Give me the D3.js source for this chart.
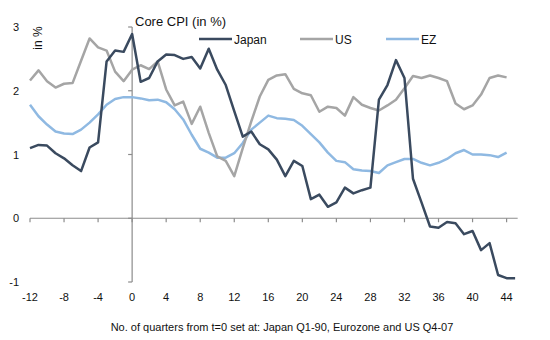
<html>
<head>
<meta charset="UTF-8">
<title>Core CPI</title>
<script src="https://d3js.org/d3.v7.min.js"></script>
<style>
  body{ margin:0; background:#fff; }
  svg{ display:block; font-family:"Liberation Sans", Arial, sans-serif; }
</style>
</head>
<body>
<script type="text/javascript">
var width = 550;
var height = 340;

// quarters from t=0
var quarters = d3.range(-12, 46);
var xTicks = d3.range(-12, 45, 4);
var yTicks = [-1, 0, 1, 2, 3];

var japan = [1.1, 1.15, 1.14, 1.02, 0.94, 0.83, 0.74, 1.11, 1.19, 2.46, 2.63, 2.61,
  2.89, 2.14, 2.2, 2.46, 2.57, 2.56, 2.5, 2.53, 2.35, 2.66, 2.33, 2.09,
  1.68, 1.28, 1.36, 1.16, 1.08, 0.92, 0.66, 0.9, 0.82, 0.3, 0.37, 0.18,
  0.25, 0.48, 0.39, 0.44, 0.48, 1.86, 2.09, 2.48, 2.2, 0.62, 0.25, -0.13,
  -0.15, -0.06, -0.08, -0.25, -0.2, -0.5, -0.39, -0.89, -0.94, -0.94];
var us = [2.16, 2.32, 2.15, 2.05, 2.11, 2.12, 2.47, 2.82, 2.68, 2.63, 2.3, 2.15,
  2.33, 2.4, 2.34, 2.46, 2.02, 1.77, 1.83, 1.48, 1.75, 1.34, 0.97, 0.9,
  0.66, 1.1, 1.52, 1.91, 2.17, 2.24, 2.26, 2.03, 1.96, 1.93, 1.67, 1.75,
  1.73, 1.61, 1.9, 1.78, 1.73, 1.69, 1.77, 1.86, 2.04, 2.23, 2.2, 2.24,
  2.2, 2.15, 1.8, 1.71, 1.77, 1.94, 2.2, 2.24, 2.21];
var ez = [1.78, 1.6, 1.47, 1.36, 1.33, 1.32, 1.39, 1.5, 1.63, 1.78, 1.87, 1.9,
  1.9, 1.88, 1.85, 1.86, 1.82, 1.71, 1.55, 1.31, 1.09, 1.03, 0.95, 0.95,
  1.02, 1.18, 1.39, 1.5, 1.61, 1.57, 1.56, 1.54, 1.45, 1.32, 1.19, 1.03,
  0.9, 0.88, 0.77, 0.75, 0.74, 0.71, 0.83, 0.88, 0.93, 0.93, 0.87, 0.83,
  0.87, 0.93, 1.02, 1.07, 1.0, 1.0, 0.99, 0.96, 1.03];

var series = [
  {name: "EZ", values: ez, color: "#8fb9e2"},
  {name: "US", values: us, color: "#a5a5a5"},
  {name: "Japan", values: japan, color: "#3a4a5f"}
];
var legendOrder = ["Japan", "US", "EZ"];

var x = d3.scaleLinear().domain([-12, 44]).range([30, 506.6]);
var y = d3.scaleLinear().domain([-1, 3]).range([282, 27]);

var svg = d3.select("body").append("svg")
  .attr("width", width)
  .attr("height", height);

var axisColor = "#8c8c8c";

// horizontal axis at zero
svg.append("line")
  .attr("x1", x(-12)).attr("x2", x(45.3))
  .attr("y1", y(0)).attr("y2", y(0))
  .attr("stroke", axisColor).attr("stroke-width", 1.2);
svg.selectAll(".xtick")
  .data(xTicks)
  .enter()
  .append("line")
  .attr("x1", function(d){ return x(d); })
  .attr("x2", function(d){ return x(d); })
  .attr("y1", y(0))
  .attr("y2", y(0) + 4)
  .attr("stroke", axisColor).attr("stroke-width", 1.2);

// vertical axis at t=0
svg.append("line")
  .attr("x1", x(0)).attr("x2", x(0))
  .attr("y1", y(3)).attr("y2", y(-1))
  .attr("stroke", axisColor).attr("stroke-width", 1.2);
svg.selectAll(".ytick")
  .data(yTicks)
  .enter()
  .append("line")
  .attr("x1", x(0) - 4).attr("x2", x(0))
  .attr("y1", function(d){ return y(d); })
  .attr("y2", function(d){ return y(d); })
  .attr("stroke", axisColor).attr("stroke-width", 1.2);

// tick labels
svg.selectAll(".xlab")
  .data(xTicks)
  .enter()
  .append("text")
  .attr("x", function(d){ return x(d); })
  .attr("y", 301)
  .attr("text-anchor", "middle")
  .style("font-size", "11px")
  .attr("fill", "#111")
  .text(function(d){ return d; });

svg.selectAll(".ylab")
  .data(yTicks)
  .enter()
  .append("text")
  .attr("x", 19)
  .attr("y", function(d){ return y(d) + 4; })
  .attr("text-anchor", "end")
  .style("font-size", "11px")
  .attr("fill", "#111")
  .text(function(d){ return d; });

// lines
var line = d3.line()
  .x(function(d, i){ return x(quarters[i]); })
  .y(function(d){ return y(d); });

svg.selectAll(".series")
  .data(series)
  .enter()
  .append("path")
  .attr("d", function(d){ return line(d.values); })
  .attr("fill", "none")
  .attr("stroke", function(d){ return d.color; })
  .attr("stroke-width", 2.5)
  .attr("stroke-linejoin", "round");

// titles
svg.append("text")
  .attr("x", 135).attr("y", 26)
  .style("font-size", "13px")
  .attr("fill", "#111")
  .text("Core CPI (in %)");

svg.append("text")
  .attr("transform", "translate(42,38) rotate(-90)")
  .attr("text-anchor", "middle")
  .style("font-size", "12px")
  .attr("fill", "#111")
  .text("in %");

svg.append("text")
  .attr("x", 282).attr("y", 331)
  .attr("text-anchor", "middle")
  .style("font-size", "11px")
  .attr("fill", "#111")
  .text("No. of quarters from t=0 set at: Japan Q1-90, Eurozone and US Q4-07");

// legend
var legendX = [199, 300, 386];
var legend = svg.selectAll(".legend")
  .data(legendOrder)
  .enter()
  .append("g")
  .attr("transform", function(d, i){ return "translate(" + legendX[i] + ",39)"; });
legend.append("line")
  .attr("x1", 0).attr("x2", 33)
  .attr("y1", 0).attr("y2", 0)
  .attr("stroke", function(d){
    return series.filter(function(s){ return s.name == d; })[0].color;
  })
  .attr("stroke-width", 2.5);
legend.append("text")
  .attr("x", 35).attr("y", 4.5)
  .style("font-size", "12px")
  .attr("fill", "#111")
  .text(function(d){ return d; });
</script>
</body>
</html>
